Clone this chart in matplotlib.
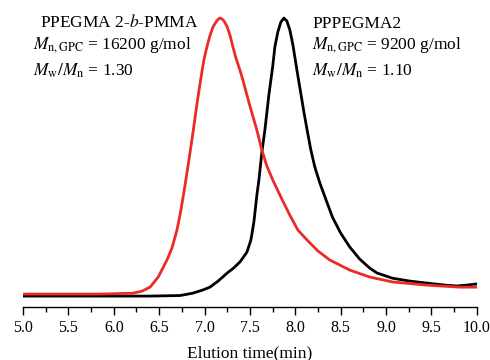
"""
GPC traces of PPEGMA2 and the PPEGMA 2-b-PMMA block copolymer.
"""

import matplotlib
matplotlib.use("Agg")
import matplotlib.pyplot as plt
from matplotlib.ticker import MultipleLocator, FormatStrFormatter

plt.rcParams["font.family"] = ["Liberation Serif", "DejaVu Serif"]
plt.rcParams["mathtext.fontset"] = "stix"

# block copolymer trace (red)
time_block = [5.00, 5.41, 5.85, 6.07, 6.21, 6.31, 6.40, 6.49, 6.586, 6.641,
	6.696, 6.740, 6.784, 6.828, 6.872, 6.916, 6.960, 6.993, 7.026, 7.059,
	7.093, 7.126, 7.148, 7.170, 7.192, 7.214, 7.247, 7.280, 7.313, 7.346,
	7.390, 7.423, 7.467, 7.500, 7.577, 7.632, 7.687, 7.753, 7.841, 7.940,
	8.03, 8.13, 8.25, 8.38, 8.60, 8.82, 9.07, 9.45, 9.81, 10.00]
signal_block = [0.045, 0.045, 0.045, 0.047, 0.048, 0.055, 0.069, 0.104,
	0.163, 0.204, 0.266, 0.336, 0.419, 0.509, 0.602, 0.702, 0.792, 0.855,
	0.900, 0.938, 0.969, 0.986, 0.995, 1.000, 0.997, 0.990, 0.972, 0.941,
	0.900, 0.862, 0.820, 0.785, 0.734, 0.696, 0.612, 0.543, 0.488, 0.439,
	0.381, 0.318, 0.266, 0.232, 0.194, 0.163, 0.128, 0.104, 0.087, 0.076,
	0.069, 0.069]

# macroinitiator trace (black)
time_macro = [5.00, 5.85, 6.40, 6.73, 6.87, 6.98, 7.06, 7.15, 7.25, 7.32,
	7.390, 7.467, 7.511, 7.544, 7.577, 7.599, 7.632, 7.665, 7.709, 7.753,
	7.775, 7.808, 7.841, 7.874, 7.907, 7.941, 7.974, 8.018, 8.051, 8.095,
	8.139, 8.172, 8.216, 8.271, 8.34, 8.41, 8.50, 8.60, 8.71, 8.82, 8.90,
	9.07, 9.26, 9.45, 9.65, 9.78, 9.89, 10.00]
signal_macro = [0.038, 0.038, 0.038, 0.040, 0.048, 0.059, 0.069, 0.090,
	0.118, 0.135, 0.156, 0.190, 0.232, 0.294, 0.388, 0.439, 0.536, 0.612,
	0.734, 0.837, 0.900, 0.952, 0.986, 1.000, 0.990, 0.958, 0.907, 0.820,
	0.758, 0.675, 0.598, 0.543, 0.484, 0.429, 0.370, 0.311, 0.256, 0.208,
	0.166, 0.135, 0.118, 0.100, 0.090, 0.083, 0.076, 0.073, 0.076, 0.080]

RED = "#ec2a27"

fig = plt.figure(figsize=(4.9, 3.6), dpi=100)
ax = fig.add_axes([0.047, 0.147, 0.926, 0.839])

ax.plot(time_macro, signal_macro, color="black", lw=2.0)
ax.plot(time_block, signal_block, color=RED, lw=2.0)

ax.set_xlim(5.0, 10.0)
ax.set_ylim(0, 1.045)
ax.xaxis.set_major_locator(MultipleLocator(0.5))
ax.xaxis.set_minor_locator(MultipleLocator(0.25))
ax.xaxis.set_major_formatter(FormatStrFormatter("%.1f"))
ax.tick_params(axis="x", which="major", direction="out", length=6, width=1,
	labelsize=11.5, pad=3)
ax.tick_params(axis="x", which="minor", direction="out", length=3.5, width=1)
ax.set_yticks([])
for side in ("left", "right", "top"):
	ax.spines[side].set_visible(False)
ax.spines["bottom"].set_linewidth(1)
ax.set_xlabel("Elution time(min)", fontsize=12.5, labelpad=7)

fs = 12.5
fig.text(40 / 490, 1 - 27 / 360, "PPEGMA 2-$b$-PMMA", fontsize=fs)
fig.text(33 / 490, 1 - 49 / 360, r"$M_{\mathrm{n,GPC}}$ = 16200 g/mol",
	fontsize=fs)
fig.text(33 / 490, 1 - 76 / 360, r"$M_{\mathrm{w}}/M_{\mathrm{n}}$ = 1.30",
	fontsize=fs)
fig.text(312 / 490, 1 - 28 / 360, "PPPEGMA2", fontsize=fs)
fig.text(312 / 490, 1 - 49 / 360, r"$M_{\mathrm{n,GPC}}$ = 9200 g/mol",
	fontsize=fs)
fig.text(312 / 490, 1 - 76 / 360, r"$M_{\mathrm{w}}/M_{\mathrm{n}}$ = 1.10",
	fontsize=fs)

fig.savefig("out.png", dpi=100)
